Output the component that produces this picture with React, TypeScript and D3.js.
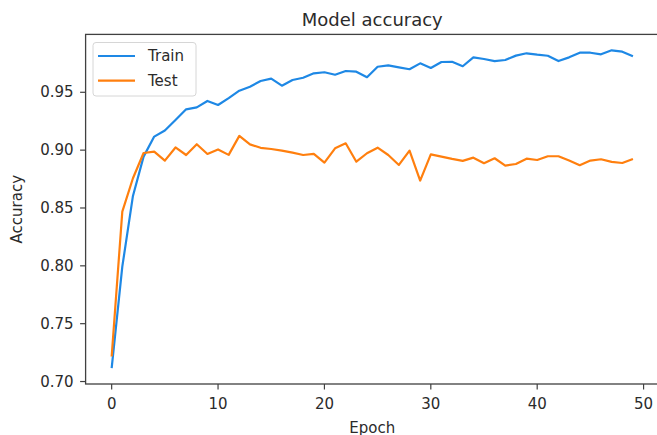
import React from "react";
import * as d3 from "d3";

const epochs: number[] = Array.from({ length: 50 }, (_, i) => i);

const trainAcc: number[] = [
  0.7116, 0.7993, 0.8604, 0.8944, 0.9117, 0.917, 0.926, 0.9353, 0.937, 0.9425,
  0.939, 0.945, 0.9514, 0.9548, 0.9598, 0.9618, 0.9557, 0.9606, 0.9626, 0.9664,
  0.9673, 0.9652, 0.9684, 0.9678, 0.963, 0.9721, 0.9733, 0.9716, 0.9699, 0.975,
  0.971, 0.9762, 0.9764, 0.9725, 0.9802, 0.9788, 0.977, 0.9779, 0.9817, 0.9837,
  0.9825, 0.9816, 0.977, 0.9802, 0.9842, 0.9842, 0.9828, 0.9863, 0.9851, 0.9811,
];

const testAcc: number[] = [
  0.7216, 0.8469, 0.8757, 0.8975, 0.8987, 0.8909, 0.9023, 0.8958, 0.9051, 0.8967,
  0.9006, 0.8959, 0.9123, 0.905, 0.902, 0.901, 0.8996, 0.8978, 0.8958, 0.8967,
  0.8892, 0.9016, 0.9059, 0.89, 0.8973, 0.9021, 0.8958, 0.8872, 0.8996, 0.8737,
  0.8964, 0.8944, 0.8924, 0.8907, 0.8935, 0.8887, 0.893, 0.8866, 0.888, 0.8926,
  0.8915, 0.8947, 0.8947, 0.891, 0.887, 0.891, 0.8921, 0.8898, 0.8889, 0.8924,
];

const xTicks: number[] = [0, 10, 20, 30, 40, 50];
const yTicks: number[] = [0.7, 0.75, 0.8, 0.85, 0.9, 0.95];

const seriesNames: string[] = ["Train", "Test"];
const seriesColors: string[] = ["#1e88e5", "#ff7f0e"];

const W = 657;
const H = 435;
const FONT = "DejaVu Sans, sans-serif";
const TEXT = "#2b2b2b";
const SPINE = "#404040";

export default function App() {
  const left = 85.6;
  const right = 659;
  const top = 34.4;
  const bottom = 384;

  const xMin = d3.min(epochs)!;
  const xMax = d3.max(epochs)!;
  const xPad = (xMax - xMin) * 0.05;
  const x = d3.scaleLinear().domain([xMin - xPad, xMax + xPad]).range([left, right]);

  const all = trainAcc.concat(testAcc);
  const yMin = d3.min(all)!;
  const yMax = d3.max(all)!;
  const yPad = (yMax - yMin) * 0.05;
  const y = d3.scaleLinear().domain([yMin - yPad, yMax + yPad]).range([bottom, top]);

  const line = d3
    .line<number>()
    .x((_, i) => x(epochs[i]))
    .y((d) => y(d));

  const series = [trainAcc, testAcc];

  return (
    <svg
      width={W}
      height={H}
      style={{ position: "absolute", left: 0, top: 0, background: "#fff" }}
      fontFamily={FONT}
    >
      <rect x={0} y={0} width={W} height={H} fill="#fff" />
      <defs>
        <clipPath id="plotclip">
          <rect x={left} y={top} width={right - left} height={bottom - top} />
        </clipPath>
      </defs>

      {series.map((s, k) => (
        <path
          key={k}
          d={line(s) || ""}
          fill="none"
          stroke={seriesColors[k]}
          strokeWidth={2.2}
          strokeLinejoin="round"
          strokeLinecap="butt"
          clipPath="url(#plotclip)"
        />
      ))}

      {/* spines */}
      <rect
        x={left}
        y={top}
        width={right - left}
        height={bottom - top}
        fill="none"
        stroke={SPINE}
        strokeWidth={1.3}
      />

      {/* x ticks */}
      {xTicks.map((t) => (
        <g key={"x" + t}>
          <line x1={x(t)} x2={x(t)} y1={bottom} y2={bottom + 5.5} stroke={SPINE} strokeWidth={1.2} />
          <text x={x(t)} y={bottom + 25} textAnchor="middle" fontSize={15} fill={TEXT}>
            {t}
          </text>
        </g>
      ))}

      {/* y ticks */}
      {yTicks.map((t) => (
        <g key={"y" + t}>
          <line x1={left - 5.5} x2={left} y1={y(t)} y2={y(t)} stroke={SPINE} strokeWidth={1.2} />
          <text
            x={left - 12}
            y={y(t)}
            textAnchor="end"
            dominantBaseline="central"
            fontSize={15}
            fill={TEXT}
          >
            {t.toFixed(2)}
          </text>
        </g>
      ))}

      {/* axis labels */}
      <text x={(left + right) / 2} y={432.5} textAnchor="middle" fontSize={15} fill={TEXT}>
        Epoch
      </text>
      <text
        transform={`translate(22, ${(top + bottom) / 2}) rotate(-90)`}
        textAnchor="middle"
        fontSize={15}
        fill={TEXT}
      >
        Accuracy
      </text>

      {/* title */}
      <text x={(left + right) / 2} y={26} textAnchor="middle" fontSize={18} fill={TEXT}>
        Model accuracy
      </text>

      {/* legend */}
      <rect
        x={93}
        y={42.5}
        width={103}
        height={53.5}
        rx={3}
        fill="#fff"
        fillOpacity={0.8}
        stroke="#d6d6d6"
        strokeWidth={1}
      />
      {seriesNames.map((n, k) => (
        <g key={n}>
          <line
            x1={98}
            x2={135}
            y1={56 + k * 24.7}
            y2={56 + k * 24.7}
            stroke={seriesColors[k]}
            strokeWidth={2.2}
          />
          <text x={148} y={56 + k * 24.7} dominantBaseline="central" fontSize={15} fill={TEXT}>
            {n}
          </text>
        </g>
      ))}
    </svg>
  );
}
